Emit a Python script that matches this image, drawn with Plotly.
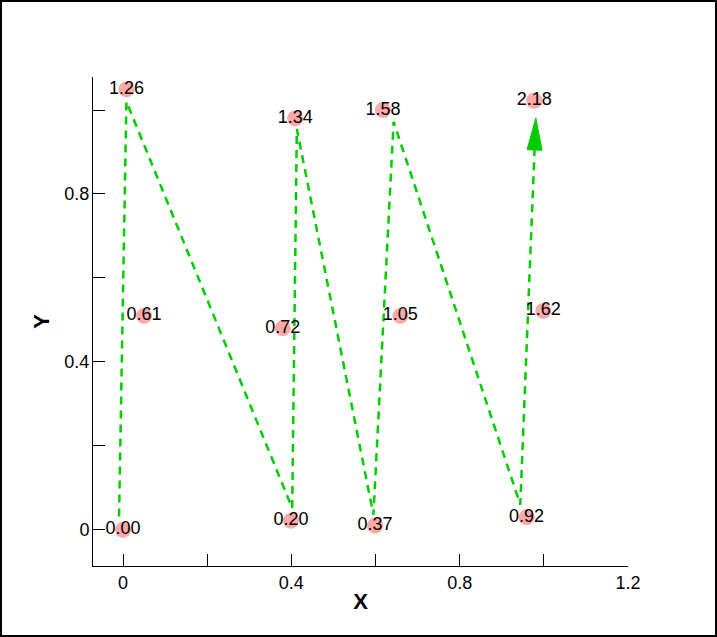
import plotly.graph_objects as go
import numpy as np

# Labelled points
pt_x = [0.0, 0.05, 0.008, 0.399, 0.3795, 0.409, 0.599, 0.659, 0.6176, 0.959, 0.9986, 0.977]
pt_y = [0.0, 0.5095, 1.049, 0.022, 0.480, 0.980, 0.010, 0.5095, 1.0, 0.030, 0.5214, 1.022]
pt_labels = ["0.00", "0.61", "1.26", "0.20", "0.72", "1.34", "0.37", "1.05", "1.58", "0.92", "1.62", "2.18"]

# Dashed path (ends with an arrow)
path_x = [-0.0095, 0.008, 0.402, 0.413, 0.595, 0.643, 0.944, 0.981]
path_y = [0.032, 1.020, 0.052, 0.955, 0.036, 0.972, 0.060, 0.981]

x_ticks = [0, 0.2, 0.4, 0.6, 0.8, 1.0, 1.2]
x_ticktext = ["0", "", "0.4", "", "0.8", "", "1.2"]
y_ticks = [0, 0.2, 0.4, 0.6, 0.8, 1.0]
y_ticktext = ["0", "", "0.4", "", "0.8", ""]

W, H = 717, 637
ML, MR, MT, MB = 93, 89, 77, 71
x_range = [-0.0714, 1.2]
y_range = [-0.086, 1.0786]
pw, ph = W - ML - MR, H - MT - MB
sx = pw / (x_range[1] - x_range[0])
sy = ph / (y_range[1] - y_range[0])

GREEN = "#00cc00"
PINK = "#ffaaaa"
FONT = "Liberation Sans, Arial, sans-serif"

# arrow head derived from last path segment (in pixel space)
tx, ty = path_x[-1], path_y[-1]
px_, py_ = path_x[-2], path_y[-2]
dxp, dyp = (tx - px_) * sx, (ty - py_) * sy
L = np.hypot(dxp, dyp)
ux, uy = dxp / L, dyp / L
head_len, head_half = 32, 7.5
bx, by = tx * sx - ux * head_len, ty * sy - uy * head_len
nx, ny = -uy, ux
tri_x = [tx, (bx + nx * head_half) / sx, (bx - nx * head_half) / sx, tx]
tri_y = [ty, (by + ny * head_half) / sy, (by - ny * head_half) / sy, ty]

fig = go.Figure()
fig.add_trace(go.Scatter(x=path_x[:-1] + [bx / sx], y=path_y[:-1] + [by / sy], mode="lines",
                         line=dict(color=GREEN, width=2.5, dash="8px,6px"),
                         hoverinfo="skip", showlegend=False))
fig.add_trace(go.Scatter(x=tri_x, y=tri_y, mode="lines", fill="toself",
                         fillcolor=GREEN, line=dict(color=GREEN, width=1),
                         hoverinfo="skip", showlegend=False))
fig.add_trace(go.Scatter(x=pt_x, y=pt_y, mode="markers+text", text=pt_labels,
                         textposition="middle center",
                         textfont=dict(family=FONT, size=18, color="black"),
                         marker=dict(size=16, color=PINK, line=dict(width=0)),
                         showlegend=False))

axis_common = dict(showgrid=False, zeroline=False, showline=True, linecolor="black",
                   linewidth=1, ticks="inside", ticklen=12, tickcolor="black", tickwidth=1,
                   tickfont=dict(family=FONT, size=18, color="black"))

fig.update_layout(
    width=W, height=H,
    margin=dict(l=ML, r=MR, t=MT, b=MB),
    paper_bgcolor="white", plot_bgcolor="white",
    xaxis=dict(range=x_range, tickvals=x_ticks, ticktext=x_ticktext,
               title=dict(text="<b>X</b>", font=dict(family=FONT, size=22, color="black"), standoff=2),
               **axis_common),
    yaxis=dict(range=y_range, tickvals=y_ticks, ticktext=y_ticktext, ticklabelstandoff=-1,
               title=dict(text="<b>Y</b>", font=dict(family=FONT, size=22, color="black"), standoff=8),
               **axis_common),
    shapes=[dict(type="rect", xref="paper", yref="paper",
                 x0=(-ML + 1) / pw, x1=1 + (MR - 1) / pw,
                 y0=(-MB + 1) / ph, y1=1 + (MT - 1) / ph,
                 line=dict(color="black", width=2), layer="above")],
)

fig.write_html("out.html", config={"displayModeBar": False},
               post_script="document.body.style.margin='0';document.body.style.overflow='hidden';")
